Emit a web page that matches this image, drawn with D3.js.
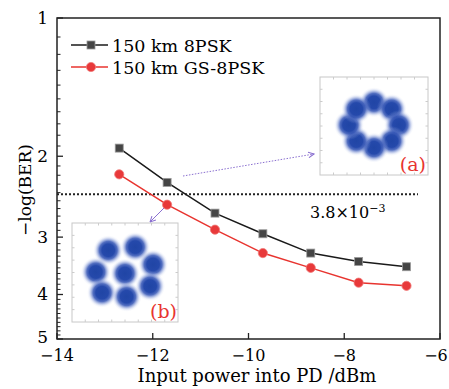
<!DOCTYPE html>
<html>
<head>
<meta charset="utf-8">
<script src="https://cdn.jsdelivr.net/npm/d3@7"></script>
<style>
  body { margin: 0; background: #fff; }
  svg { display: block; }
</style>
</head>
<body>
<script>
// data
const power = [-12.7, -11.7, -10.7, -9.7, -8.7, -7.7, -6.7];
const berPSK = [1.92, 2.28, 2.66, 2.95, 3.25, 3.39, 3.48];
const berGS = [2.19, 2.55, 2.89, 3.25, 3.50, 3.77, 3.83];
const seriesNames = ["150 km 8PSK", "150 km GS-8PSK"];
const xTicks = [-14, -12, -10, -8, -6];
const yTicks = [1, 2, 3, 4, 5];
const threshold = 2.42; // -log10(3.8e-3)
// constellation cluster centres (I, Q)
const constA = [[0, 1], [0.707, 0.707], [1, 0], [0.707, -0.707], [0, -1], [-0.707, -0.707], [-1, 0], [-0.707, 0.707]];
const constB = [[0, 0], [1.04, 0.36], [0.38, 1.05], [-0.62, 0.92], [-1.08, 0.06], [-0.85, -0.76], [0.06, -0.92], [0.93, -0.5]];

const width = 449, height = 389;
const m = { left: 57, right: 9, top: 18, bottom: 50 };
const font = "'DejaVu Serif', serif";

const svg = d3.select("body").append("svg")
    .attr("width", width)
    .attr("height", height)
    .style("font-family", font);

const x = d3.scaleLinear().domain([-14, -6]).range([m.left, width - m.right]);
const y = d3.scaleLog().domain([1, 5]).range([m.top, height - m.bottom]);

// blob gradient
const defs = svg.append("defs");
const grad = defs.append("radialGradient").attr("id", "blob");
[[0, "#2045a5", 1], [0.42, "#2549ab", 1], [0.6, "#3556b6", 0.85], [0.78, "#6c85cf", 0.38], [0.9, "#9eb0e2", 0.12], [1, "#b8c4ea", 0]]
  .forEach(s => grad.append("stop").attr("offset", s[0]).attr("stop-color", s[1]).attr("stop-opacity", s[2]));

defs.append("marker").attr("id", "arr")
    .attr("viewBox", "0 0 10 10").attr("refX", 9).attr("refY", 5)
    .attr("markerWidth", 7).attr("markerHeight", 7).attr("orient", "auto")
  .append("path").attr("d", "M1,1L9,5L1,9").attr("fill", "none")
    .attr("stroke", "#8a6fd0").attr("stroke-width", 1.4);

// frame
svg.append("rect")
    .attr("x", x(-14)).attr("y", y(1))
    .attr("width", x(-6) - x(-14)).attr("height", y(5) - y(1))
    .attr("fill", "none").attr("stroke", "#222").attr("stroke-width", 1.5);

// x ticks (inward)
svg.append("g").selectAll("line").data(xTicks).join("line")
    .attr("x1", d => x(d)).attr("x2", d => x(d))
    .attr("y1", y(5)).attr("y2", y(5) - 6)
    .attr("stroke", "#222").attr("stroke-width", 1.3);
svg.append("g").selectAll("text").data(xTicks).join("text")
    .attr("x", d => d === -6 ? x(d) - 4 : x(d)).attr("y", y(5) + 22)
    .attr("text-anchor", "middle").attr("font-size", 16).attr("fill", "#000")
    .text(d => d < 0 ? "\u2212" + Math.abs(d) : d);

// y ticks, major + minor every 0.1
const minor = d3.range(11, 50).map(d => d / 10).filter(d => d % 1 !== 0);
svg.append("g").selectAll("line").data(minor).join("line")
    .attr("x1", x(-14)).attr("x2", x(-14) + 3.5)
    .attr("y1", d => y(d)).attr("y2", d => y(d))
    .attr("stroke", "#222").attr("stroke-width", 1);
svg.append("g").selectAll("line").data(yTicks).join("line")
    .attr("x1", x(-14)).attr("x2", x(-14) + 6)
    .attr("y1", d => y(d)).attr("y2", d => y(d))
    .attr("stroke", "#222").attr("stroke-width", 1.3);
svg.append("g").selectAll("text").data(yTicks).join("text")
    .attr("x", x(-14) - 9).attr("y", d => d === 5 ? y(d) + 4 : y(d) + 6)
    .attr("text-anchor", "end").attr("font-size", 17).attr("fill", "#000")
    .text(d => d);

// axis titles
svg.append("text")
    .attr("x", 257).attr("y", 382)
    .attr("text-anchor", "middle").attr("font-size", 18).attr("fill", "#000")
    .text("Input power into PD /dBm");
svg.append("text")
    .attr("transform", "translate(31,190) rotate(-90)")
    .attr("text-anchor", "middle").attr("font-size", 17).attr("fill", "#000")
    .text("\u2212log(BER)");

// threshold
svg.append("line")
    .attr("x1", x(-14)).attr("x2", 418)
    .attr("y1", y(threshold)).attr("y2", y(threshold))
    .attr("stroke", "#222").attr("stroke-width", 2).attr("stroke-dasharray", "2,2");
const th = svg.append("text")
    .attr("x", 310).attr("y", 218).attr("font-size", 16).attr("fill", "#000");
th.append("tspan").text("3.8\u00d710");
th.append("tspan").attr("dy", -6).attr("font-size", 11).text("\u22123");

// insets
function inset(x0, y0, w, h) {
  const g = svg.append("g");
  g.append("rect").attr("x", x0).attr("y", y0).attr("width", w).attr("height", h)
      .attr("fill", "#fff").attr("stroke", "#c8c8c8").attr("stroke-width", 1);
  const sx = d3.scaleLinear().domain([-2, 2]).range([x0, x0 + w]);
  const sy = d3.scaleLinear().domain([-2, 2]).range([y0 + h, y0]);
  const tk = d3.range(-1.5, 2, 0.5);
  g.selectAll(".tb").data(tk).join("line")
      .attr("x1", d => sx(d)).attr("x2", d => sx(d))
      .attr("y1", y0 + h).attr("y2", y0 + h - 2.5).attr("stroke", "#ccc");
  g.selectAll(".tl").data(tk).join("line")
      .attr("y1", d => sy(d)).attr("y2", d => sy(d))
      .attr("x1", x0).attr("x2", x0 + 2.5).attr("stroke", "#ccc");
  g.selectAll(".tt").data(tk).join("line")
      .attr("x1", d => sx(d)).attr("x2", d => sx(d))
      .attr("y1", y0).attr("y2", y0 + 2.5).attr("stroke", "#ccc");
  g.selectAll(".tr").data(tk).join("line")
      .attr("y1", d => sy(d)).attr("y2", d => sy(d))
      .attr("x1", x0 + w).attr("x2", x0 + w - 2.5).attr("stroke", "#ccc");
  return { g, sx, sy };
}
const ia = inset(320, 77, 108, 98);
const sa = 25 / (ia.sx(1) - ia.sx(0));
ia.g.selectAll("circle").data(constA).join("circle")
    .attr("cx", d => ia.sx(d[0] * sa)).attr("cy", d => ia.sy(d[1] * sa) - 1)
    .attr("r", 15).attr("fill", "url(#blob)");
ia.g.append("text").attr("x", 426).attr("y", 171).attr("text-anchor", "end")
    .attr("font-size", 19).attr("fill", "#e8342f").text("(a)");

const ib = inset(72, 223, 106, 99);
const sb = 27 / (ib.sx(1) - ib.sx(0));
ib.g.selectAll("circle").data(constB).join("circle")
    .attr("cx", d => ib.sx(d[0] * sb)).attr("cy", d => ib.sy(d[1] * sb) + 1)
    .attr("r", 15).attr("fill", "url(#blob)");
ib.g.append("text").attr("x", 177).attr("y", 318).attr("text-anchor", "end")
    .attr("font-size", 19).attr("fill", "#e8342f").text("(b)");

// arrows
svg.append("line").attr("x1", 183).attr("y1", 176).attr("x2", 314).attr("y2", 154)
    .attr("stroke", "#8a6fd0").attr("stroke-width", 1).attr("stroke-dasharray", "1.5,1.5")
    .attr("marker-end", "url(#arr)");
svg.append("line").attr("x1", 164).attr("y1", 208).attr("x2", 150).attr("y2", 222)
    .attr("stroke", "#8a6fd0").attr("stroke-width", 1).attr("marker-end", "url(#arr)");

// series
const line = d3.line().x(d => x(d[0])).y(d => y(d[1]));
const dPSK = power.map((p, i) => [p, berPSK[i]]);
const dGS = power.map((p, i) => [p, berGS[i]]);

svg.append("path").datum(dGS).attr("d", line)
    .attr("fill", "none").attr("stroke", "#e8342f").attr("stroke-width", 1.5);
svg.append("g").selectAll("circle").data(dGS).join("circle")
    .attr("cx", d => x(d[0])).attr("cy", d => y(d[1])).attr("r", 4.6)
    .attr("fill", "#e8393a").attr("stroke", "#f07a78").attr("stroke-width", 0.8);

svg.append("path").datum(dPSK).attr("d", line)
    .attr("fill", "none").attr("stroke", "#1a1a1a").attr("stroke-width", 1.5);
svg.append("g").selectAll("rect").data(dPSK).join("rect")
    .attr("x", d => x(d[0]) - 4).attr("y", d => y(d[1]) - 4)
    .attr("width", 8).attr("height", 8)
    .attr("fill", "#454545").attr("stroke", "#999").attr("stroke-width", 0.8);

// legend
const leg = svg.append("g");
const legRows = [
  { name: seriesNames[0], color: "#1a1a1a", y: 45, sq: true },
  { name: seriesNames[1], color: "#e8342f", y: 67, sq: false }
];
legRows.forEach(r => {
  leg.append("line").attr("x1", 71).attr("x2", 108).attr("y1", r.y).attr("y2", r.y)
      .attr("stroke", r.color).attr("stroke-width", 1.5);
  if (r.sq) {
    leg.append("rect").attr("x", 87).attr("y", r.y - 4).attr("width", 8).attr("height", 8)
        .attr("fill", "#454545").attr("stroke", "#999").attr("stroke-width", 0.8);
  } else {
    leg.append("circle").attr("cx", 91).attr("cy", r.y).attr("r", 4.6)
        .attr("fill", "#e8393a").attr("stroke", "#f07a78").attr("stroke-width", 0.8);
  }
  leg.append("text").attr("x", 112).attr("y", r.y + 6.5).attr("font-size", 17.5).attr("fill", "#000")
      .text(r.name);
});
</script>
</body>
</html>
